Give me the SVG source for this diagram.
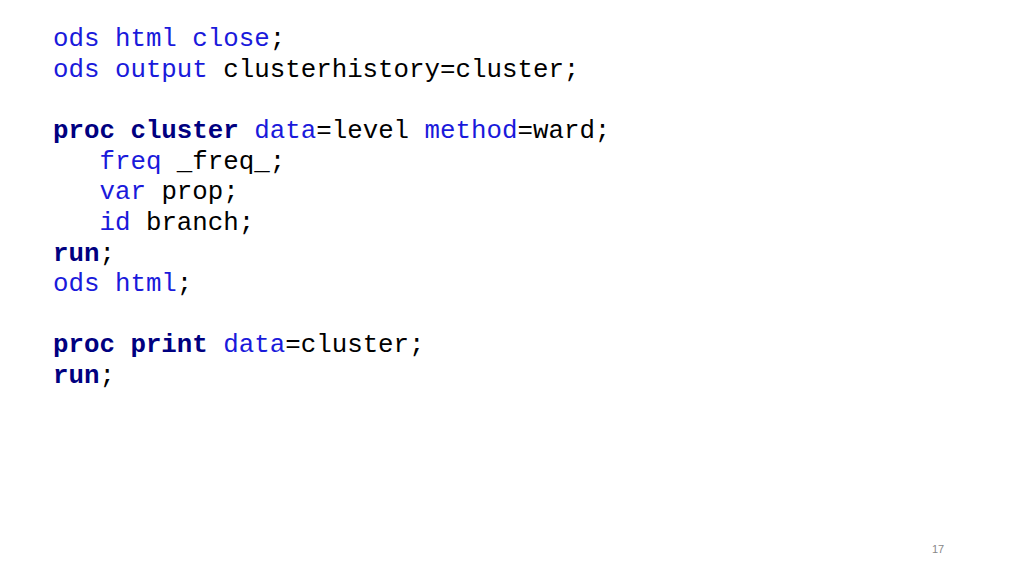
<svg xmlns="http://www.w3.org/2000/svg" width="1024" height="576" viewBox="0 0 1024 576">
<style>
text{font-family:"Liberation Mono","DejaVu Sans Mono",monospace;font-size:25.8px;fill:#000;white-space:pre}
.k{fill:#1a1adb}
.p{fill:#000080;font-weight:bold}
.n{font-family:"Liberation Sans",Arial,sans-serif;font-size:11px;fill:#888}
</style>
<rect width="1024" height="576" fill="#fff"/>
<g id="code">
<text x="53" y="46" xml:space="preserve"><tspan class="k">ods html close</tspan>;</text>
<text x="53" y="77" xml:space="preserve"><tspan class="k">ods output</tspan> clusterhistory=cluster;</text>
<text x="53" y="138" xml:space="preserve"><tspan class="p">proc cluster</tspan> <tspan class="k">data</tspan>=level <tspan class="k">method</tspan>=ward;</text>
<text x="53" y="169" xml:space="preserve">   <tspan class="k">freq</tspan> _freq_;</text>
<text x="53" y="199" xml:space="preserve">   <tspan class="k">var</tspan> prop;</text>
<text x="53" y="230" xml:space="preserve">   <tspan class="k">id</tspan> branch;</text>
<text x="53" y="261" xml:space="preserve"><tspan class="p">run</tspan>;</text>
<text x="53" y="291" xml:space="preserve"><tspan class="k">ods html</tspan>;</text>
<text x="53" y="352" xml:space="preserve"><tspan class="p">proc print</tspan> <tspan class="k">data</tspan>=cluster;</text>
<text x="53" y="383" xml:space="preserve"><tspan class="p">run</tspan>;</text>
</g>
<text class="n" x="938" y="553" text-anchor="middle">17</text>
</svg>
